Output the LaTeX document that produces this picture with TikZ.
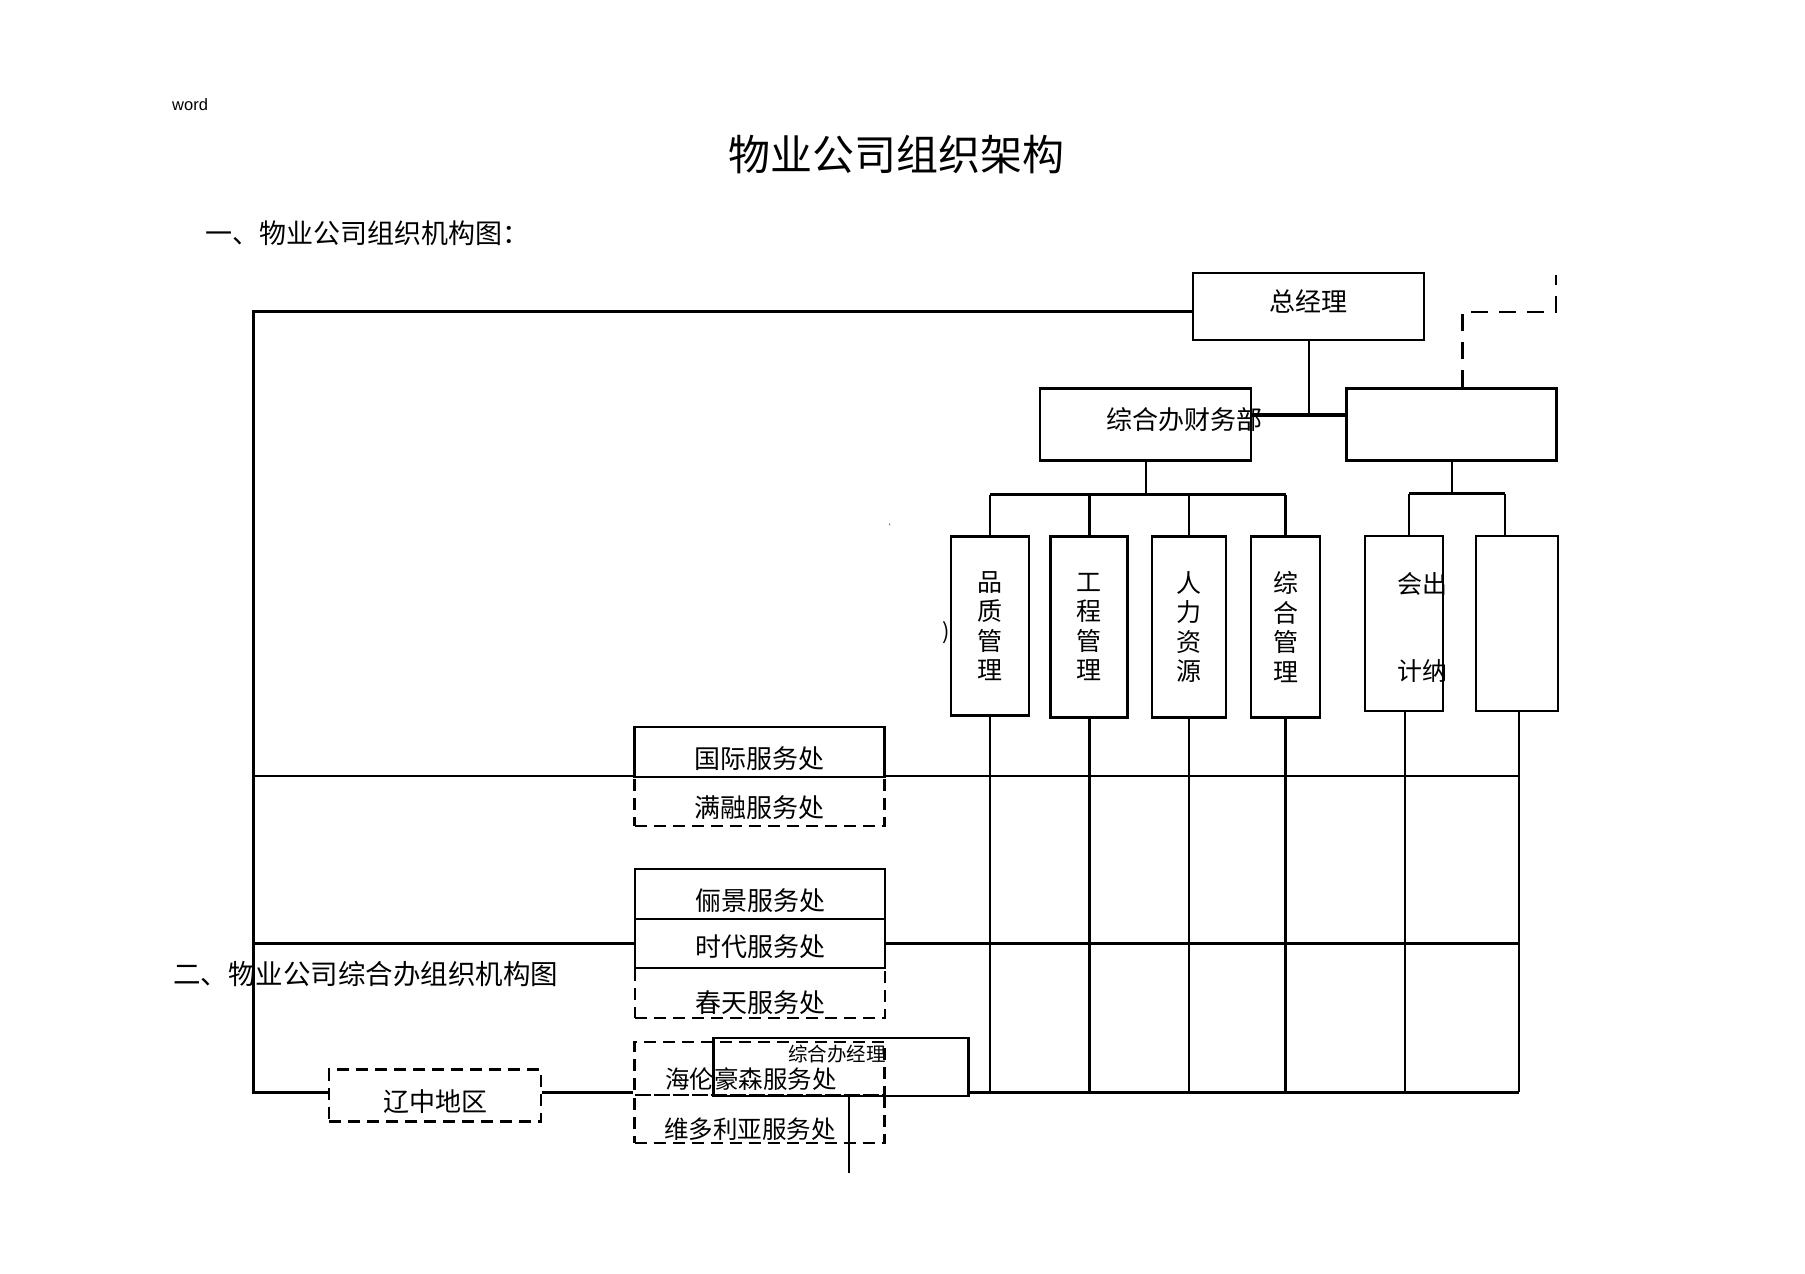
\documentclass[tikz,border=0pt]{standalone}
\usepackage{fontspec}
\newfontfamily\cjk{Noto Sans CJK SC}
\newfontfamily\wordfont{Liberation Sans}
\usepackage{tikz}
\usetikzlibrary{calc}
\tikzset{
frame/.style={
  draw,
  line width=2.2pt,
  inner sep=0pt
},
box/.style={frame,font=\cjk\fontsize{26}{26}\selectfont,
  text height=35pt,text depth=3pt},
dbox/.style={box,line width=2.6pt,dash pattern=on 12pt off 7pt},
vbox/.style={frame,minimum width=77pt,minimum height=181pt,align=center,
  font=\cjk\fontsize{25}{29.5}\selectfont},
lbl/.style={inner sep=0pt,font=\cjk\fontsize{26}{26}\selectfont},
wire/.style={line width=2pt},
heavy/.style={line width=3pt},
dwire/.style={line width=2.6pt,dash pattern=on 17pt off 11pt},
}

\begin{document}
\begin{tikzpicture}[x=1pt,y=-1pt]
\useasboundingbox[fill=white] (0,0) rectangle (1805,1274);
% texts
\node[anchor=west,inner sep=0pt,font=\wordfont\fontsize{16.5}{16.5}\selectfont] (word) at (172,105) {word};
\node[lbl,font=\cjk\fontsize{42}{42}\selectfont] (title) at (896,155) {物业公司组织架构};
\node[lbl,anchor=west,font=\cjk\fontsize{27}{27}\selectfont] (head1) at (205,233) {一、物业公司组织机构图：};
\node[lbl,anchor=west,font=\cjk\fontsize{27.5}{27.5}\selectfont] (head2) at (173,974) {二、物业公司综合办组织机构图};
% top level
\node[frame,minimum width=231pt,minimum height=67pt,font=\cjk\fontsize{26}{26}\selectfont,
  text height=23pt,text depth=13pt] (gm) at (1308.5,306.5) {总经理};
\node[frame,minimum width=211pt,minimum height=72pt] (fin) at (1145.5,424.5) {};
\node[lbl] (finlbl) at (1184,420) {综合办财务部};
\node[frame,minimum width=210pt,minimum height=72pt] (blank) at (1451.5,424.5) {};
% departments
\node[vbox,minimum width=78pt,minimum height=179pt] (qual) at (990,626) {品\\质\\管\\理};
\node[vbox,line width=2.8pt] (eng) at (1089,627) {工\\程\\管\\理};
\node[vbox,minimum width=74pt] (hr) at (1189,627) {人\\力\\资\\源};
\node[vbox,minimum width=69pt,line width=2.8pt] (adm) at (1285.5,627) {综\\合\\管\\理};
\node[vbox,minimum width=78pt,minimum height=175pt] (acct) at (1404,623.5) {};
\node[vbox,minimum width=82pt,minimum height=175pt,line width=2.8pt] (cash) at (1517,623.5) {};
\node[lbl,align=center,font=\cjk\fontsize{25}{87}\selectfont] (acctlbl) at (1422,627) {会出\\计纳};
\node[lbl,font=\cjk\fontsize{22}{22}\selectfont] (paren) at (946,633) {)};
\node[lbl,font=\wordfont\fontsize{8}{8}\selectfont] (tick) at (890,527) {'};
% service offices
\node[box,minimum width=250pt,minimum height=50pt] (intl) at (759.5,752) {国际服务处};
\node[dbox,minimum width=250pt,minimum height=49pt] (manr) at (759.5,801.5) {满融服务处};
\node[box,minimum width=250pt,minimum height=50pt] (li) at (760,894) {俪景服务处};
\node[box,minimum width=250pt,minimum height=49pt,text height=29pt] (era) at (760,943.5) {时代服务处};
\node[dbox,minimum width=250pt,minimum height=50pt,text height=41pt] (spring) at (760,993) {春天服务处};
\node[dbox,minimum width=250pt,minimum height=53pt] (helen) at (759.5,1068.5) {};
\node[dbox,minimum width=250pt,minimum height=48pt] (vic) at (759.5,1119) {};
\node[lbl,font=\cjk\fontsize{24.5}{24.5}\selectfont] (helenlbl) at (751,1079) {海伦豪森服务处};
\node[lbl,font=\cjk\fontsize{24.5}{24.5}\selectfont] (viclbl) at (750,1129) {维多利亚服务处};
\node[frame,minimum width=255pt,minimum height=58pt] (mgr) at (841,1067) {};
\node[lbl,font=\cjk\fontsize{19.5}{19.5}\selectfont] (mgrlbl) at (837,1054) {综合办经理};
\node[dbox,minimum width=212pt,minimum height=52pt] (liao) at (435,1095.5) {辽中地区};
% free ends
\coordinate (tl) at (253,311);
\coordinate (bl) at (253,1092);
\coordinate (dcorner) at (1556,312);
\coordinate (dend) at (1556,275);
\coordinate (mgrend) at (849,1173);
\coordinate (row1) at (253,776);
\coordinate (row2) at (253,943);
\coordinate (acctin) at ([xshift=5pt]acct.north);
\coordinate (cashin) at ([xshift=-12pt]cash.north);
\coordinate (acctout) at ([xshift=1pt]acct.south);
\coordinate (cashout) at ([xshift=2pt]cash.south);
% the connectors
\draw[heavy] (tl -| gm.west) -- (tl) -- (bl) -- (bl -| liao.west);
\draw[wire] (gm.south) -- ++(0,74) coordinate (j1);
\draw[line width=4pt] (j1 -| fin.east) -- (j1 -| blank.west);
\draw[dwire] ([xshift=11pt]blank.north) |- (dcorner) -- (dend);
\draw[wire] (fin.south) -- ++(0,33) coordinate (b1);
\draw[heavy] (b1 -| qual.north) -- (b1 -| adm.north);
\foreach \n/\w in {qual/2pt,eng/3pt,hr/2pt,adm/3pt}
{
  \draw[line width=\w] (b1 -| \n.north) -- (\n.north);
  \draw[line width=\w] (\n.south) -- (\n.south |- bl);
}
\draw[wire] (blank.south) -- ++(0,32) coordinate (b2);
\draw[heavy] (b2 -| acctin) -- (b2 -| cashin);
\draw[wire] (b2 -| acctin) -- (acctin);
\draw[wire] (b2 -| cashin) -- (cashin);
\draw[wire] (acctout) -- (acctout |- bl);
\draw[wire] (cashout) -- (cashout |- bl);
% the rows
\draw[wire] (row1) -- (row1 -| intl.west);
\draw[wire] (row1 -| intl.east) -- (row1 -| cashout);
\draw[heavy] (row2) -- (row2 -| era.west);
\draw[heavy] (row2 -| era.east) -- (row2 -| cashout);
\draw[heavy] (bl -| liao.east) -- (bl -| helen.west);
\draw[heavy] (bl -| mgr.east) -- (bl -| cashout);
\draw[wire] (mgr.south -| mgrend) -- (mgrend);
\end{tikzpicture}
\end{document}
